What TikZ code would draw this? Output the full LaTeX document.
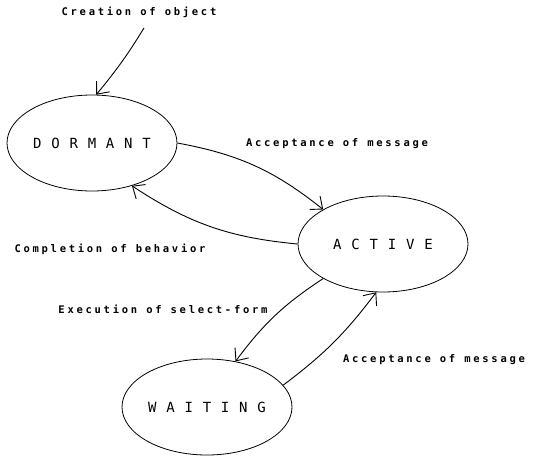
\documentclass[tikz,border=0pt]{standalone}
\usepackage{fontspec}
\usepackage{tikz}
\usetikzlibrary{shapes.geometric,arrows.meta}
\newfontfamily\labelfont[LetterSpace=26]{DejaVu Sans Mono}
\newfontfamily\statefont[LetterSpace=70]{DejaVu Sans Mono}
\newcommand{\msgtext}[1]{{\labelfont\bfseries\fontsize{10.5}{12}\selectfont #1}}
\newcommand{\statetext}[1]{{\statefont\fontsize{14}{16}\selectfont #1}}

\begin{document}
\begin{tikzpicture}[x=1pt, y=-1pt,
    state/.style={draw, ellipse, line width=0.8pt, inner sep=0pt, minimum width=170pt, minimum height=96pt},
    msg/.style={inner sep=0pt},
    trans/.style={line width=0.9pt, -{Straight Barb[length=10pt, width=17pt, line width=0.9pt]}}]
	\useasboundingbox (0,0) rectangle (535,456);
	\node[state] (dormant) at (92,143) {\statetext{DORMANT}};
	\node[state] (active) at (383,244) {\statetext{ACTIVE}};
	\node[state] (waiting) at (207,407) {\statetext{WAITING}};
	\node[msg] (creation) at (139,12) {\msgtext{Creation of object}};
	\node[msg] (accept1) at (337,144) {\msgtext{Acceptance of message}};
	\node[msg] (complete) at (110,249) {\msgtext{Completion of behavior}};
	\node[msg] (execute) at (163,309) {\msgtext{Execution of select-form}};
	\node[msg] (accept2) at (434,360) {\msgtext{Acceptance of message}};
	\coordinate (create-in) at (144,28);
	\draw[trans] (create-in) to[bend left=4] (dormant.85);
	\draw[trans] (dormant.east) to[bend left=14] (active.150);
	\draw[trans] (active.west) to[bend left=14] (dormant.-47);
	\draw[trans] (active.210) to[bend right=10] (waiting.58);
	\draw[trans] (waiting.16) to[bend right=8] (active.262);
\end{tikzpicture}
\end{document}
